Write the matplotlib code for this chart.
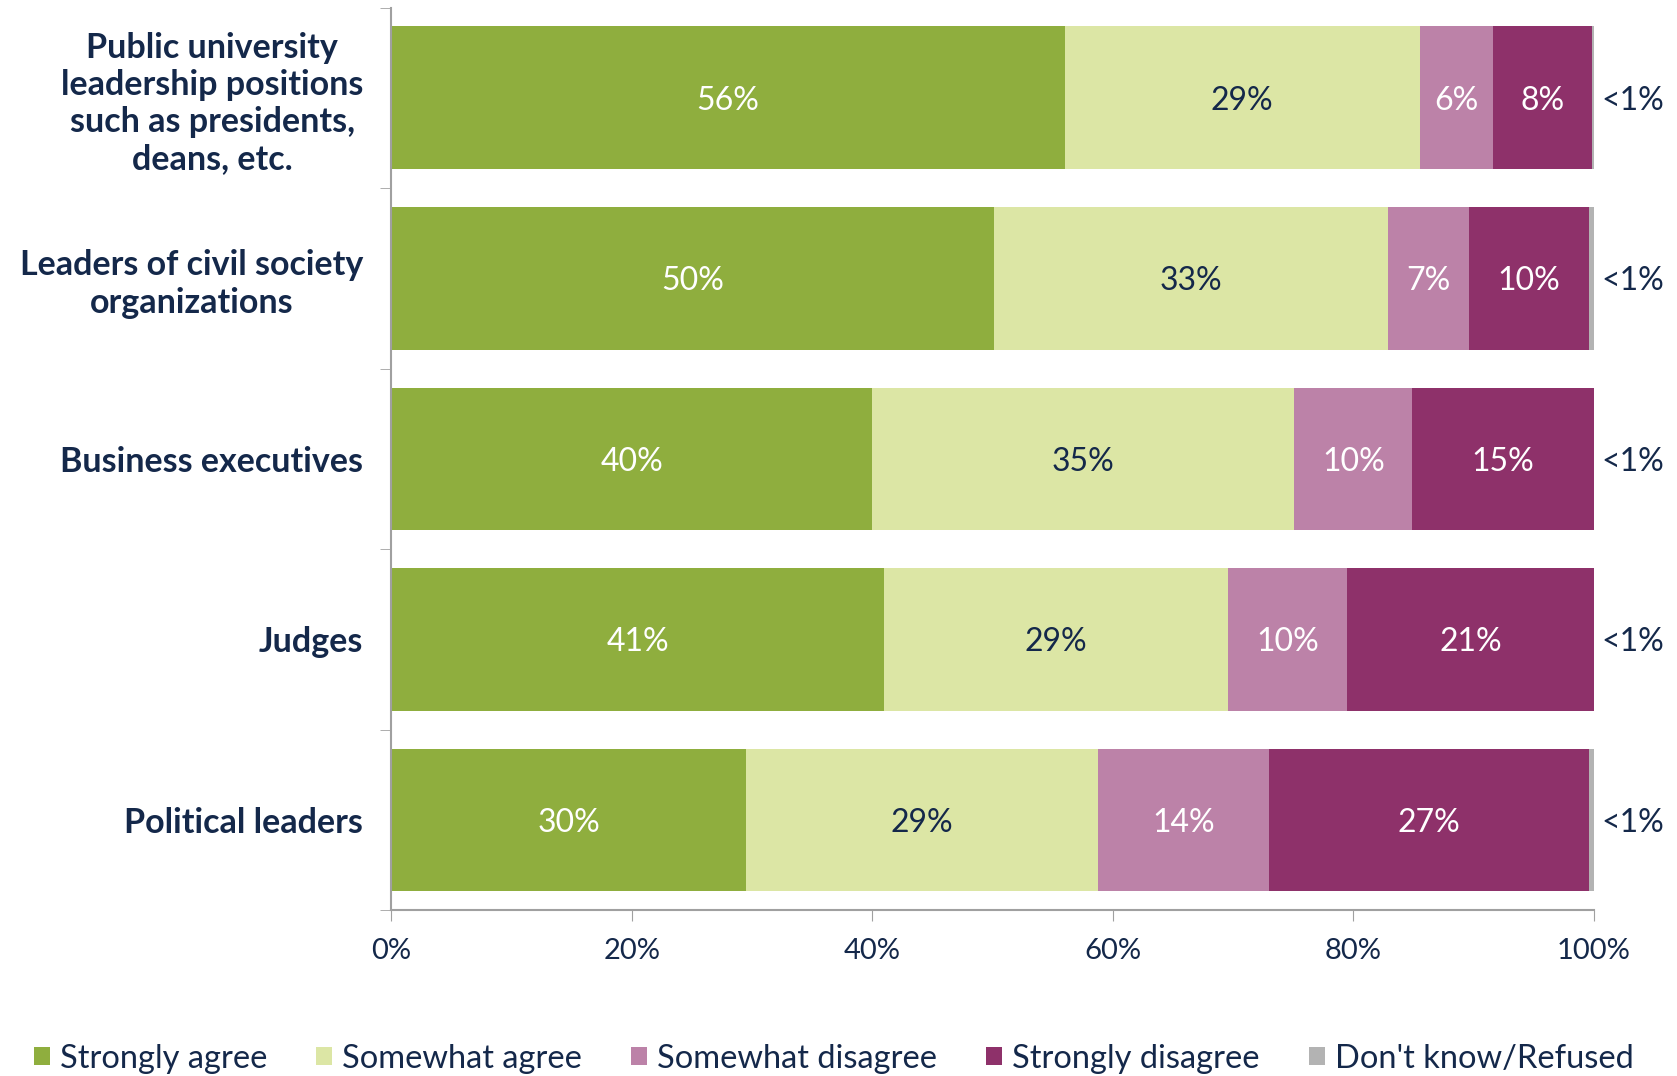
import matplotlib.pyplot as plt
from matplotlib.patches import Patch

categories = ["Public university\nleadership positions\nsuch as presidents,\ndeans, etc.",
              "Leaders of civil society\norganizations",
              "Business executives",
              "Judges",
              "Political leaders"]
series = ["Strongly agree", "Somewhat agree", "Somewhat disagree",
          "Strongly disagree", "Don't know/Refused"]
strongly_agree = [56.0, 50.1, 40.0, 41.0, 29.5]
somewhat_agree = [29.5, 32.8, 35.1, 28.6, 29.3]
somewhat_disagree = [6.1, 6.7, 9.8, 9.9, 14.2]
strongly_disagree = [8.2, 10.0, 15.1, 20.5, 26.6]
dont_know = [0.2, 0.4, 0.1, 0.1, 0.4]
labels = [["56%", "50%", "40%", "41%", "30%"],
          ["29%", "33%", "35%", "29%", "29%"],
          ["6%", "7%", "10%", "10%", "14%"],
          ["8%", "10%", "15%", "21%", "27%"],
          ["<1%", "<1%", "<1%", "<1%", "<1%"]]

colors = ["#8FAE3E", "#DCE6A5", "#BC82A8", "#8E316A", "#B3B3B3"]
text_colors = ["white", "#14284A", "white", "white", "#14284A"]
navy = "#14284A"

plt.rcParams['font.family'] = ['Lato', 'DejaVu Sans']

fig = plt.figure(figsize=(16.77, 10.76), dpi=100)
ax = fig.add_axes([0.2332, 0.154, 0.7173, 0.839])

data = [strongly_agree, somewhat_agree, somewhat_disagree, strongly_disagree, dont_know]
y = list(range(len(categories)))
left = [0.0] * len(categories)
for k, vals in enumerate(data):
    ax.barh(y, vals, left=left, height=0.79, color=colors[k], linewidth=0)
    for i, v in enumerate(vals):
        if k < 4:
            ax.text(left[i] + v / 2, y[i], labels[k][i], ha='center',
                    va='center_baseline', fontsize=23, color=text_colors[k])
        else:
            ax.text(100.6, y[i], labels[k][i], ha='left', va='center_baseline',
                    fontsize=23, color=navy, clip_on=False)
    left = [a + b for a, b in zip(left, vals)]

ax.set_ylim(len(categories) - 0.5, -0.5)
ax.set_xlim(0, 100)
ax.set_xticks(range(0, 101, 20))
ax.set_xticklabels([f"{t}%" for t in range(0, 101, 20)], fontsize=21, color=navy)
ax.set_yticks(y)
ax.set_yticklabels(categories, fontsize=24.5, fontweight='bold', color=navy,
                   multialignment='center', linespacing=1.2)
ax.tick_params(axis='y', length=0, pad=20)
ax.tick_params(axis='x', length=8, color='#A0A0A0', pad=12, direction='out')

# minor ticks at slot boundaries on the y axis
ax.set_yticks([i - 0.5 for i in range(len(categories) + 1)], minor=True)
ax.tick_params(axis='y', which='minor', length=8, color='#A0A0A0')

for s in ['top', 'right']:
    ax.spines[s].set_visible(False)
for s in ['left', 'bottom']:
    ax.spines[s].set_color('#A0A0A0')
    ax.spines[s].set_linewidth(1.5)

handles = [Patch(facecolor=c, edgecolor='none') for c in colors]
leg = fig.legend(handles, series, loc='center', ncol=5, frameon=False,
                 bbox_to_anchor=(0.497, 0.016), fontsize=23.5, handlelength=0.5,
                 handleheight=0.5, handletextpad=0.3, columnspacing=1.5)
for t in leg.get_texts():
    t.set_color(navy)

fig.savefig("out.png", dpi=100)
